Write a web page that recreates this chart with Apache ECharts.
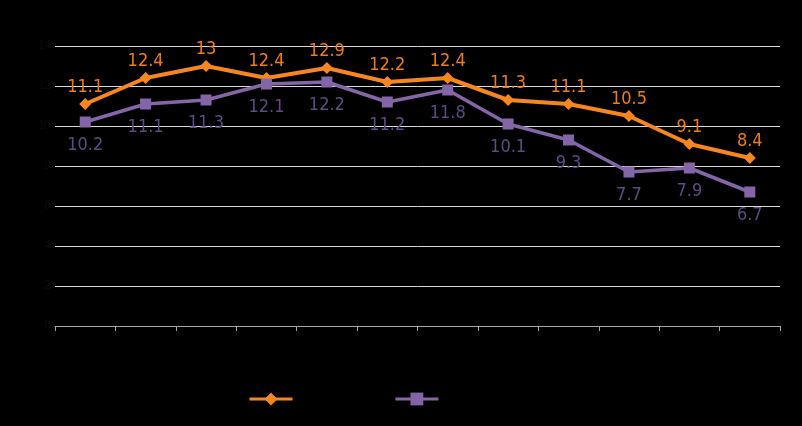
<!DOCTYPE html>
<html><head><meta charset="utf-8">
<script src="https://cdn.jsdelivr.net/npm/echarts@6/dist/echarts.min.js"></script>
<style>html,body{margin:0;padding:0;background:#000;}#c{width:802px;height:426px;}</style>
</head><body><div id="c"></div>
<script>
const categories = ['1','2','3','4','5','6','7','8','9','10','11','12'];
const seriesAName = 'Series 1';
const seriesBName = 'Series 2';
const seriesA = [11.1, 12.4, 13, 12.4, 12.9, 12.2, 12.4, 11.3, 11.1, 10.5, 9.1, 8.4];
const seriesB = [10.2, 11.1, 11.3, 12.1, 12.2, 11.2, 11.8, 10.1, 9.3, 7.7, 7.9, 6.7];
const yTicks = [0, 2, 4, 6, 8, 10, 12, 14];

const chart = echarts.init(document.getElementById('c'), null, {renderer: 'canvas'});
chart.setOption({
  backgroundColor: '#000',
  animation: false,
  grid: {left: 55, right: 22, top: 46, bottom: 100},
  legend: {
    bottom: 15, left: 243, itemWidth: 43, itemHeight: 16, itemGap: 40,
    lineStyle: {width: 3},
    textStyle: {color: '#000', fontSize: 14, fontFamily: 'DejaVu Sans'},
    data: [seriesAName, seriesBName]
  },
  xAxis: {
    type: 'category', data: categories, boundaryGap: true,
    axisLine: {lineStyle: {color: '#a6a6a6', width: 1}},
    axisTick: {show: true, alignWithLabel: false, length: 5, lineStyle: {color: '#a6a6a6'}},
    axisLabel: {color: '#000'}
  },
  yAxis: {
    type: 'value', min: yTicks[0], max: yTicks[yTicks.length - 1], interval: 2,
    axisLine: {show: false}, axisTick: {show: false},
    axisLabel: {color: '#0a0a0a', fontSize: 12, margin: 4},
    splitLine: {lineStyle: {color: '#d9d9d9', width: 1}}
  },
  series: [
    {
      name: seriesAName, type: 'line', data: seriesA,
      symbol: 'diamond', symbolSize: 12,
      lineStyle: {color: '#f7861f', width: 4},
      itemStyle: {color: '#f7861f'},
      label: {show: true, position: 'top', distance: 2, color: '#f07c16', fontSize: 18, fontFamily: 'DejaVu Sans Condensed'}
    },
    {
      name: seriesBName, type: 'line', data: seriesB,
      symbol: 'rect', symbolSize: 11,
      lineStyle: {color: '#8466a8', width: 3.5},
      itemStyle: {color: '#8466a8'},
      label: {show: true, position: 'bottom', distance: 9, color: '#5e4b85', fontSize: 18, fontFamily: 'DejaVu Sans Condensed'}
    }
  ]
});
</script></body></html>
